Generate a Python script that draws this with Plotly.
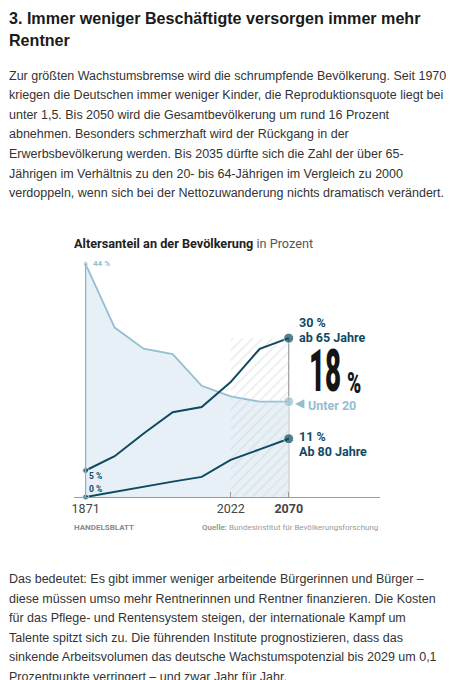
import plotly.graph_objects as go

# positions along the time axis (evenly spaced in the original graphic)
POINTS = [0, 1, 2, 3, 4, 5, 6, 7]
TICK_POS = [0, 5, 7]
TICK_LABELS = ["1871", "2022", "<b>2070</b>"]

# shares of population in percent
UNTER_20 = [44, 32, 28, 27, 21, 19, 18, 18]
AB_65 = [5, 7.7, 12, 16, 17, 21.7, 28, 30]
AB_80 = [0, 1, 2, 2.9, 3.8, 7, 9, 11]

# forecast period (hatched)
FORECAST = [5, 7]

W, H = 450, 680
DARK = "#0e4a62"
LIGHT = "#94bed1"
FILL = "#e6f0f6"
BODY_FONT = "Liberation Sans"
CHART_FONT = "Roboto"


def X(px):
    return px / W


def Y(py):
    return 1 - py / H


def ends(values, first, last):
    return [first] + [0] * (len(values) - 2) + [last]


fig = go.Figure()

fig.add_trace(go.Scatter(
    x=POINTS, y=UNTER_20, mode="lines+markers", fill="tozeroy",
    fillcolor=FILL, line=dict(color=LIGHT, width=1.8),
    marker=dict(size=ends(UNTER_20, 5, 10), color=LIGHT),
    cliponaxis=False, hoverinfo="skip"
))

fig.add_trace(go.Scatter(
    x=[FORECAST[0], FORECAST[0], FORECAST[1], FORECAST[1]],
    y=[0, AB_65[-1], AB_65[-1], 0],
    mode="none", fill="toself", fillcolor="rgba(0,0,0,0)",
    fillpattern=dict(shape="/", fgcolor="#cfd3d6", bgcolor="rgba(0,0,0,0)",
                     size=7, solidity=0.2),
    hoverinfo="skip"
))

for vals in (AB_65, AB_80):
    fig.add_trace(go.Scatter(
        x=POINTS, y=vals, mode="lines+markers",
        line=dict(color=DARK, width=2),
        marker=dict(size=ends(vals, 6, 10), color=DARK),
        cliponaxis=False, hoverinfo="skip"
    ))

# edge lines
fig.add_shape(type="line", x0=POINTS[0], x1=POINTS[0], y0=0, y1=UNTER_20[0],
              line=dict(color="#8fb0c0", width=1.2), layer="above")
fig.add_shape(type="line", x0=POINTS[-1], x1=POINTS[-1], y0=0, y1=AB_65[-1],
              line=dict(color="#9a9a9a", width=1.2), layer="below")

ann = []


def text(px, py, s, size, color, font=CHART_FONT, anchor="left", yanchor="middle",
         weight="normal"):
    if anchor == "left":
        px -= 2
    ann.append(dict(x=X(px), y=Y(py), xref="paper", yref="paper", text=s,
                    showarrow=False, xanchor=anchor, yanchor=yanchor,
                    font=dict(size=size, color=color, family=font, weight=weight)))


# page heading and body text
text(7, 18, "<b>3. Immer weniger Beschäftigte versorgen immer mehr</b>", 16.1, "#1a1a1a", BODY_FONT)
text(7, 40, "<b>Rentner</b>", 16.1, "#1a1a1a", BODY_FONT)

para1 = [
    "Zur größten Wachstumsbremse wird die schrumpfende Bevölkerung. Seit 1970",
    "kriegen die Deutschen immer weniger Kinder, die Reproduktionsquote liegt bei",
    "unter 1,5. Bis 2050 wird die Gesamtbevölkerung um rund 16 Prozent",
    "abnehmen. Besonders schmerzhaft wird der Rückgang in der",
    "Erwerbsbevölkerung werden. Bis 2035 dürfte sich die Zahl der über 65-",
    "Jährigen im Verhältnis zu den 20- bis 64-Jährigen im Vergleich zu 2000",
    "verdoppeln, wenn sich bei der Nettozuwanderung nichts dramatisch verändert.",
]
for i, line in enumerate(para1):
    text(7, 76 + i * 19.5, line, 12.5, "#333333", BODY_FONT)

para2 = [
    "Das bedeutet: Es gibt immer weniger arbeitende Bürgerinnen und Bürger –",
    "diese müssen umso mehr Rentnerinnen und Rentner finanzieren. Die Kosten",
    "für das Pflege- und Rentensystem steigen, der internationale Kampf um",
    "Talente spitzt sich zu. Die führenden Institute prognostizieren, dass das",
    "sinkende Arbeitsvolumen das deutsche Wachstumspotenzial bis 2029 um 0,1",
    "Prozentpunkte verringert – und zwar Jahr für Jahr.",
]
for i, line in enumerate(para2):
    text(7, 579 + i * 19.5, line, 12.5, "#333333", BODY_FONT)

# chart title
text(72, 243, "<b>Altersanteil an der Bevölkerung</b> <span style='color:#555'>in Prozent</span>",
     12.7, "#222222")

# value labels
text(91, 264, "<b>44 %</b>", 8, LIGHT)
text(87, 476, "<b>5 %</b>", 8.5, DARK)
text(87, 489, "<b>0 %</b>", 8.5, DARK)
text(298, 322, "<b>30 %</b>", 12.5, DARK)
text(298, 337, "<b>ab 65 Jahre</b>", 12.5, DARK)
text(298, 436, "<b>11 %</b>", 12.5, DARK)
text(298, 451, "<b>Ab 80 Jahre</b>", 12.5, DARK)
text(294, 403, "◀", 12, LIGHT, "DejaVu Sans")
text(307, 405, "<b>Unter 20</b>", 12.5, LIGHT)
# big number: drawn in Roboto Black, squeezed horizontally in the page script below
text(308, 407, "18", 59, "#151515", yanchor="bottom", weight=900)
text(347, 401.5, "%", 30, "#151515", yanchor="bottom", weight=900)

# footer
text(72, 527, "<b>HANDELSBLATT</b>", 8, "#8a8a8a")
text(380, 527, "<b>Quelle:</b> Bundesinstitut für Bevölkerungsforschung", 8, "#9a9a9a",
     anchor="right")

step = (288 - 84) / 7
fig.update_layout(
    width=W, height=H,
    margin=dict(l=0, r=0, t=0, b=0),
    paper_bgcolor="white", plot_bgcolor="white",
    showlegend=False,
    annotations=ann,
    xaxis=dict(domain=[72 / W, 380 / W],
               range=[-12 / step, 7 + 92 / step],
               showgrid=False, zeroline=False,
               showline=True, linecolor="#9a9a9a", linewidth=1.2,
               tickvals=TICK_POS, ticktext=TICK_LABELS,
               ticks="inside", ticklen=5, tickcolor="#9a9a9a",
               tickfont=dict(size=12.5, color="#444", family=CHART_FONT)),
    yaxis=dict(domain=[1 - 497 / H, 1 - 250 / H],
               range=[0, (497 - 250) / 5.295],
               visible=False),
)

# no body margin (page is photographed edge to edge) and a condensed look for the big "18 %"
POST = """
document.body.style.margin = '0';
var gd = document.getElementById('{plot_id}');
function squeeze() {
  var widths = {'18': 0.47, '%': 0.64};
  gd.querySelectorAll('.annotation-text').forEach(function (t) {
    var s = widths[t.textContent];
    if (!s) return;
    var b = t.getBBox();
    t.setAttribute('transform',
      'translate(' + b.x + ',0) scale(' + s + ',1) translate(' + (-b.x) + ',0)');
  });
}
squeeze();
gd.on('plotly_afterplot', squeeze);
"""

fig.write_html("out.html", post_script=POST, config={"displayModeBar": False})
